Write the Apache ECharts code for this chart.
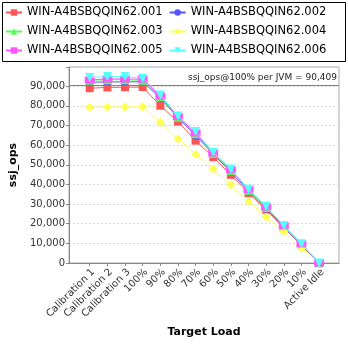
<!DOCTYPE html>
<html><head><meta charset="utf-8">
<script src="https://cdn.jsdelivr.net/npm/echarts@6/dist/echarts.min.js"></script>
<style>html,body{margin:0;padding:0;background:#fff}#c{width:348px;height:348px}</style>
</head><body><div id="c"></div>
<script>
const categories = ['Calibration 1','Calibration 2','Calibration 3','100%','90%','80%','70%','60%','50%','40%','30%','20%','10%','Active Idle'];
const seriesNames = ['WIN-A4BSBQQIN62.001','WIN-A4BSBQQIN62.002','WIN-A4BSBQQIN62.003','WIN-A4BSBQQIN62.004','WIN-A4BSBQQIN62.005','WIN-A4BSBQQIN62.006'];
const s001 = [89000, 89400, 89500, 89600, 80100, 72000, 62300, 53900, 44900, 35600, 27100, 18000, 9000, 0];
const s002 = [92000, 92200, 92200, 92300, 83900, 74000, 64900, 55400, 46300, 36600, 27600, 18300, 9300, 0];
const s003 = [93000, 93300, 93300, 93000, 84600, 74200, 65800, 55800, 47000, 37000, 28200, 18700, 9500, 0];
const s004 = [79300, 79400, 79400, 79600, 71700, 63200, 55400, 47800, 39800, 31300, 23400, 16100, 7600, 0];
const s005 = [93200, 93700, 93700, 93600, 85000, 74500, 66200, 56000, 47500, 37400, 28500, 18900, 9700, 0];
const s006 = [94400, 94900, 94900, 94100, 85600, 74900, 66900, 56400, 47900, 37600, 28800, 19100, 9800, 0];
const perJvm = 90409;
const yTicks = [0,10000,20000,30000,40000,50000,60000,70000,80000,90000];

const allData = [s001,s002,s003,s004,s005,s006];
const colors = ['#ff5555','#5555ff','#55ff55','#ffff55','#ff55ff','#55ffff'];
const symbols = ['rect','circle','triangle','diamond','rect','triangle'];
const sizes = [8,8,9,9,[10,7],9];
const rotates = [0,0,0,0,0,180];

const chart = echarts.init(document.getElementById('c'), null, {renderer:'canvas'});
const series = allData.map((d,i)=>({
  name: seriesNames[i], type:'line',
  data: d.map((v,j)=>[j,v]),
  symbol: symbols[i], symbolSize: sizes[i], symbolRotate: rotates[i], showAllSymbol:true,
  itemStyle:{color:colors[i]}, lineStyle:{color:colors[i], width:1},
  emphasis:{disabled:true}, animation:false, z: 2+i
}));
series[0].markLine = {
  silent:true, symbol:['none','none'], animation:false,
  lineStyle:{color:'#808080', type:'solid', width:1},
  label:{position:'insideEndTop', formatter:'ssj_ops@100% per JVM = 90,409', color:'#222', fontSize:9, fontFamily:'DejaVu Sans', distance:[2,3]},
  data:[{yAxis: perJvm}]
};
chart.setOption({
  backgroundColor:'#fff',
  animation:false,
  graphic:[{type:'rect', shape:{x:2.5,y:2.5,width:343,height:59}, style:{fill:'none', stroke:'#000', lineWidth:1}, z:0}],
  legend:{
    left:5, top:6, width:340, padding:0, itemGap:6, itemWidth:16, itemHeight:8,
    textStyle:{fontSize:11.5, fontFamily:'DejaVu Sans', color:'#000', width:133, lineHeight:13},
    data: seriesNames
  },
  grid:{left:69, top:67, right:9, bottom:85, show:true, borderColor:'#aaa', borderWidth:1, containLabel:false},
  xAxis:{
    type:'value', min:-1.176, max:14.13,
    name:'Target Load', nameLocation:'middle', nameGap:58,
    nameTextStyle:{fontSize:11, fontWeight:'bold', fontFamily:'DejaVu Sans', color:'#000'},
    axisLine:{show:true, onZero:false, lineStyle:{color:'#888'}},
    axisTick:{show:true, length:3, customValues: categories.map((c,i)=>i), lineStyle:{color:'#888'}},
    axisLabel:{rotate:45, fontSize:10, fontFamily:'DejaVu Sans', color:'#333', margin:4, verticalAlign:'top',
      customValues: categories.map((c,i)=>i), formatter:(v)=>categories[Math.round(v)]},
    splitLine:{show:false}
  },
  yAxis:{
    type:'value', min:0, max:99800, interval:10000,
    name:'ssj_ops', nameLocation:'middle', nameGap:35,
    nameTextStyle:{fontSize:11, fontWeight:'bold', fontFamily:'DejaVu Sans', color:'#000'},
    axisLine:{show:true, onZero:false, lineStyle:{color:'#888'}},
    axisTick:{show:true, length:3, lineStyle:{color:'#888'}},
    axisLabel:{fontSize:10, fontFamily:'DejaVu Sans', color:'#333', margin:4,
      formatter:(v)=> yTicks.includes(v) ? v.toLocaleString('en-US') : ''},
    splitLine:{show:true, lineStyle:{color:'#d8d8d8', type:[2,2]}}
  },
  series: series
});
</script></body></html>
